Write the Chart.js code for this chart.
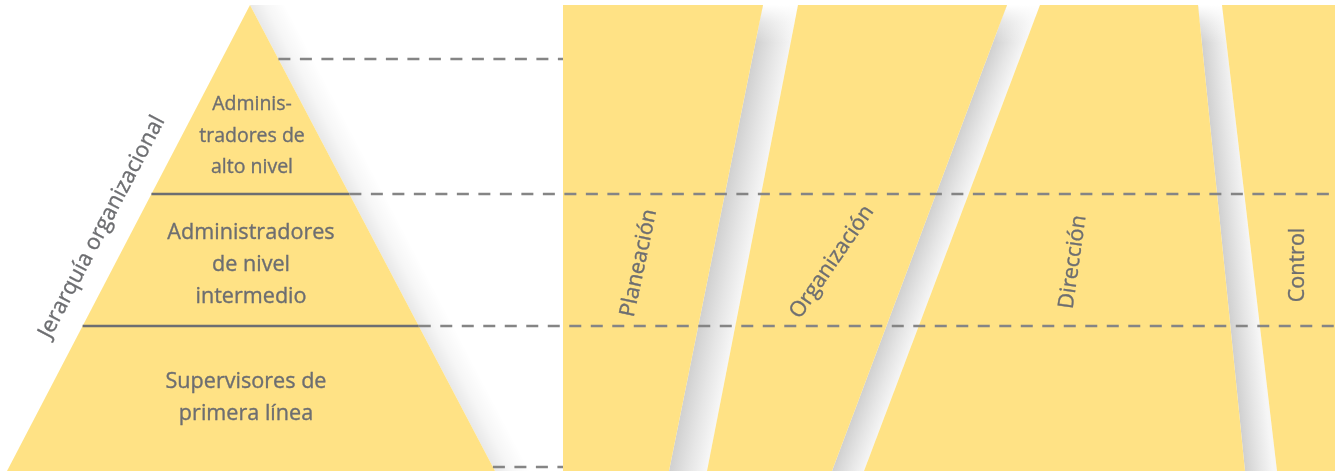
<!DOCTYPE html>
<html>
<head>
<meta charset="utf-8">
<script src="https://cdn.jsdelivr.net/npm/chart.js@4.4.1/dist/chart.umd.min.js"></script>
<style>
html,body{margin:0;padding:0;background:#fff;overflow:hidden}
#wrap{width:1335px;height:471px}
</style>
</head>
<body>
<div id="wrap"><canvas id="diag" width="1335" height="471"></canvas></div>
<script>
// ════ datos del diagrama (unidades = px de la lámina) ════
const LEVELS=[['Adminis-','tradores de','alto nivel'],['Administradores','de nivel','intermedio'],['Supervisores de','primera línea']];
const FUNCS=['Planeación','Organización','Dirección','Control'];
const HIER_TITLE='Jerarquía organizacional';
const PYR_X=[7,250,495];          // base izq, vértice, base der
const PYR_Y=[471,5,471];
const LEVEL_BREAK_Y=[194,326];
const GUIDE_Y=[59,194,326,467];
const GUIDE_END_X=[563,1335,1335,563];
const PANEL_Y=[5,471];            // arriba, abajo
const EDGE_TOP_X=[563,763,798,1007,1040,1198,1222,1335];
const EDGE_BOT_X=[563,669,707,832,864,1245,1277,1335];

// ════ layout de textos ════
const FONT='"Open Sans", "Noto Sans", sans-serif';
const LEVEL_TXT={x:[252,251,246],y0:[110,239,388],lh:[31.5,32,31.5],size:[19.5,21.6,21.6]};
const FUNC_TXT={x:[639,832,1073,1298],y:[263,262,262,265],rot:[-78,-55.5,-82,-90],size:21.5};
const TITLE_TXT={x:102,y:227,rot:-62.3,size:22};
const YELLOW='#FFE285',INK='#6D6E71',DASH='#858585';

const lerp=(a,b,t)=>a+(b-a)*t;
const pyrLeftX=y=>lerp(PYR_X[1],PYR_X[0],(y-PYR_Y[1])/(PYR_Y[0]-PYR_Y[1]));
const pyrRightX=y=>lerp(PYR_X[1],PYR_X[2],(y-PYR_Y[1])/(PYR_Y[2]-PYR_Y[1]));

function pts(xs,ys){return xs.map((x,i)=>({x,y:ys[i]}));}
function poly(xs,ys,bg){
  const d=pts(xs,ys);d.push(d[0]);
  return {data:d,showLine:true,fill:'shape',backgroundColor:bg,borderColor:'rgba(0,0,0,0)',borderWidth:0,pointRadius:0};
}
function seg(x0,x1,y,color,dash){
  return {data:[{x:x0,y},{x:x1,y}],showLine:true,fill:false,borderColor:color,borderWidth:2.5,borderDash:dash||[],pointRadius:0};
}
function grad(x0,y0,x1,y1,stops){
  return c=>{
    const ch=c.chart,sx=ch.scales.x,sy=ch.scales.y;
    if(!sx||!sy)return stops[0][1];
    const p=[sx.getPixelForValue(x0),sy.getPixelForValue(y0),sx.getPixelForValue(x1),sy.getPixelForValue(y1)];
    if(!p.every(Number.isFinite))return stops[0][1];
    const g=ch.ctx.createLinearGradient(p[0],p[1],p[2],p[3]);
    stops.forEach(s=>g.addColorStop(s[0],s[1]));
    return g;
  };
}
// gradiente perpendicular a un borde (xt,top)-(xb,bottom), hacia la derecha, de ancho w
function edgeGrad(xt,xb,yt,yb,w,stops){
  const dx=xb-xt,dy=yb-yt,len=Math.hypot(dx,dy);
  const nx=dy/len,ny=-dx/len;
  const mx=(xt+xb)/2,my=(yt+yb)/2;
  return grad(mx,my,mx+nx*w,my+ny*w,stops);
}

const ds=[];
// sombra de la pirámide
ds.push(poly([PYR_X[1],PYR_X[2],PYR_X[2]+36,PYR_X[1]+36],[PYR_Y[1],PYR_Y[2],PYR_Y[2],PYR_Y[1]],
  edgeGrad(PYR_X[1],PYR_X[2],PYR_Y[1],PYR_Y[2],31,[[0,'rgba(0,0,0,0.09)'],[0.45,'rgba(0,0,0,0.035)'],[1,'rgba(0,0,0,0)']])));
// sombras entre paneles
for(let i=0;i<FUNCS.length-1;i++){
  const lt=EDGE_TOP_X[2*i+1],lb=EDGE_BOT_X[2*i+1],rt=EDGE_TOP_X[2*i+2],rb=EDGE_BOT_X[2*i+2];
  const w=((rt+rb)/2-(lt+lb)/2)*(PANEL_Y[1]-PANEL_Y[0])/Math.hypot(lb-lt,PANEL_Y[1]-PANEL_Y[0]);
  ds.push(poly([lt,rt,rb,lb],[PANEL_Y[0],PANEL_Y[0],PANEL_Y[1],PANEL_Y[1]],
    edgeGrad(lt,lb,PANEL_Y[0],PANEL_Y[1],w,[[0,'#D0D0D0'],[0.55,'#E6E6E6'],[1,'#F6F6F6']])));
  const yf=PANEL_Y[0]+38,t=(yf-PANEL_Y[0])/(PANEL_Y[1]-PANEL_Y[0]);
  ds.push(poly([lt,rt,lerp(rt,rb,t),lerp(lt,lb,t)],[PANEL_Y[0],PANEL_Y[0],yf,yf],
    grad(0,PANEL_Y[0],0,yf,[[0,'rgba(255,255,255,1)'],[0.45,'rgba(255,255,255,0.45)'],[1,'rgba(255,255,255,0)']])));
}
// paneles de funciones
FUNCS.forEach((f,i)=>{
  ds.push(poly([EDGE_TOP_X[2*i],EDGE_TOP_X[2*i+1],EDGE_BOT_X[2*i+1],EDGE_BOT_X[2*i]],[PANEL_Y[0],PANEL_Y[0],PANEL_Y[1],PANEL_Y[1]],YELLOW));
});
// pirámide
ds.push(poly(PYR_X,PYR_Y,YELLOW));
// divisiones de nivel
LEVEL_BREAK_Y.forEach(y=>ds.push(seg(pyrLeftX(y),pyrRightX(y),y,INK)));
// guías punteadas
GUIDE_Y.forEach((y,i)=>ds.push(seg(pyrRightX(y),GUIDE_END_X[i],y,DASH,[12,9.5])));
ds.forEach((d,i)=>{d.order=ds.length-i;});

const labelPlugin={
  id:'labels',
  afterDatasetsDraw(ch){
    const ctx=ch.ctx,sx=ch.scales.x,sy=ch.scales.y;
    ctx.save();
    ctx.fillStyle=INK;ctx.strokeStyle=INK;ctx.lineWidth=0.35;ctx.textAlign='center';
    ctx.textBaseline='alphabetic';
    const put=(t,x,y)=>{ctx.fillText(t,x,y);ctx.strokeText(t,x,y);};
    LEVELS.forEach((lines,i)=>{
      ctx.font=LEVEL_TXT.size[i]+'px '+FONT;
      lines.forEach((t,k)=>put(t,sx.getPixelForValue(LEVEL_TXT.x[i]),sy.getPixelForValue(LEVEL_TXT.y0[i]+k*LEVEL_TXT.lh[i])));
    });
    ctx.textBaseline='middle';
    const rotText=(t,x,y,deg,size)=>{
      ctx.save();ctx.translate(sx.getPixelForValue(x),sy.getPixelForValue(y));ctx.rotate(deg*Math.PI/180);
      ctx.font=size+'px '+FONT;put(t,0,0);ctx.restore();
    };
    FUNCS.forEach((f,i)=>rotText(f,FUNC_TXT.x[i],FUNC_TXT.y[i],FUNC_TXT.rot[i],FUNC_TXT.size));
    rotText(HIER_TITLE,TITLE_TXT.x,TITLE_TXT.y,TITLE_TXT.rot,TITLE_TXT.size);
    ctx.restore();
  }
};

new Chart(document.getElementById('diag'),{
  type:'scatter',
  data:{datasets:ds},
  options:{
    responsive:false,animation:false,events:[],devicePixelRatio:1,
    layout:{padding:0},
    plugins:{legend:{display:false},tooltip:{enabled:false}},
    scales:{
      x:{type:'linear',min:0,max:1335,display:false},
      y:{type:'linear',min:0,max:471,reverse:true,display:false}
    }
  },
  plugins:[labelPlugin]
});
</script>
</body>
</html>
